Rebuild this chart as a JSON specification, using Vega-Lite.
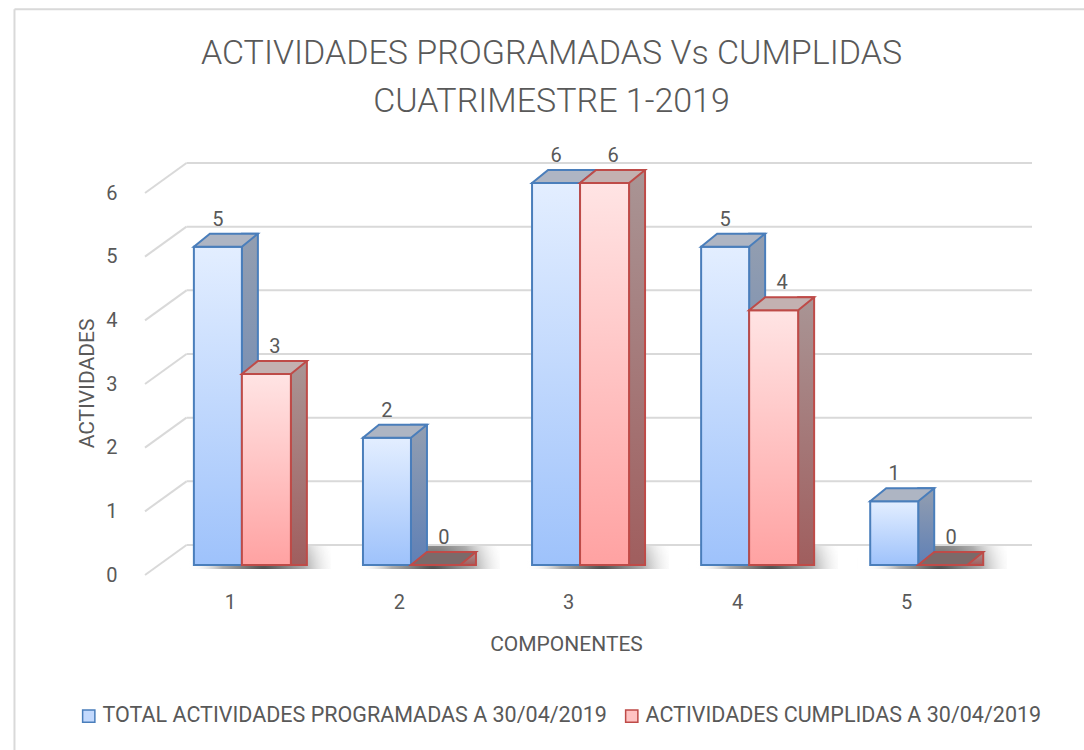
{
  "$schema": "https://vega.github.io/schema/vega-lite/v6.json",
  "width": 897,
  "height": 382,
  "autosize": {"type": "none"},
  "padding": {"left": 140, "top": 183, "right": 47, "bottom": 185},
  "background": "white",
  "config": {"view": {"stroke": null}, "font": "Roboto"},
  "title": {
    "text": ["ACTIVIDADES PROGRAMADAS Vs CUMPLIDAS", "CUATRIMESTRE 1-2019"],
    "font": "Roboto",
    "fontSize": 34,
    "fontWeight": 300,
    "color": "#595959",
    "lineHeight": 48,
    "anchor": "middle",
    "frame": "group",
    "dx": -37,
    "offset": -111
  },
  "datasets": {
    "bars": [
      {"c": 1, "serie": "TOTAL ACTIVIDADES PROGRAMADAS A 30/04/2019", "value": 5},
      {"c": 2, "serie": "TOTAL ACTIVIDADES PROGRAMADAS A 30/04/2019", "value": 2},
      {"c": 3, "serie": "TOTAL ACTIVIDADES PROGRAMADAS A 30/04/2019", "value": 6},
      {"c": 4, "serie": "TOTAL ACTIVIDADES PROGRAMADAS A 30/04/2019", "value": 5},
      {"c": 5, "serie": "TOTAL ACTIVIDADES PROGRAMADAS A 30/04/2019", "value": 1},
      {"c": 1, "serie": "ACTIVIDADES CUMPLIDAS A 30/04/2019", "value": 3},
      {"c": 2, "serie": "ACTIVIDADES CUMPLIDAS A 30/04/2019", "value": 0},
      {"c": 3, "serie": "ACTIVIDADES CUMPLIDAS A 30/04/2019", "value": 6},
      {"c": 4, "serie": "ACTIVIDADES CUMPLIDAS A 30/04/2019", "value": 4},
      {"c": 5, "serie": "ACTIVIDADES CUMPLIDAS A 30/04/2019", "value": 0}
    ],
    "grid": [{"v": 0}, {"v": 1}, {"v": 2}, {"v": 3}, {"v": 4}, {"v": 5}, {"v": 6}],
    "frame": [{"k": 1}]
  },
  "data": {"name": "bars"},
  "layer": [
    {
      "data": {"name": "frame"},
      "mark": {"type": "rule", "color": "#d9d9d9", "strokeWidth": 2},
      "encoding": {
        "x": {"datum": -0.345, "type": "quantitative", "title": "COMPONENTES"},
        "x2": {"datum": 6.2},
        "y": {"datum": 8.73, "type": "quantitative", "title": "ACTIVIDADES"}
      }
    },
    {
      "data": {"name": "frame"},
      "mark": {"type": "rule", "color": "#d9d9d9", "strokeWidth": 2},
      "encoding": {
        "x": {"datum": -0.345, "type": "quantitative", "title": "COMPONENTES"},
        "y": {"datum": 8.73, "type": "quantitative", "title": "ACTIVIDADES"},
        "y2": {"datum": -3.5}
      }
    },
    {
      "data": {"name": "grid"},
      "mark": {"type": "rule", "color": "#d9d9d9", "strokeWidth": 2, "yOffset": -20},
      "encoding": {
        "y": {
          "field": "v", "type": "quantitative", "title": "ACTIVIDADES",
          "scale": {"domain": [0, 6], "nice": false, "zero": false},
          "axis": {
            "values": [0, 1, 2, 3, 4, 5, 6], "format": "d",
            "domain": false, "ticks": false, "grid": false,
            "labelFontSize": 20, "labelColor": "#595959", "labelPadding": 23, "labelOffset": 10,
            "titleFontSize": 21, "titleFontWeight": "normal", "titleColor": "#595959",
            "titleAngle": -90, "titleX": -53, "titleY": 200, "titleAlign": "center", "titleBaseline": "middle"
          }
        },
        "x": {
          "datum": 0.6725, "type": "quantitative", "title": "COMPONENTES",
          "scale": {"domain": [0.427, 5.673], "nice": false, "zero": false},
          "axis": {
            "values": [1, 2, 3, 4, 5], "format": "d",
            "domain": false, "ticks": false, "grid": false,
            "labelFontSize": 20, "labelColor": "#595959", "labelPadding": 27, "labelOffset": -12,
            "titleFontSize": 21, "titleFontWeight": "normal", "titleColor": "#595959",
            "titleX": 426, "titleY": 79, "titleAlign": "center", "titleBaseline": "middle"
          }
        },
        "x2": {"datum": 5.673}
      }
    },
    {
      "data": {"name": "grid"},
      "mark": {"type": "rule", "color": "#d9d9d9", "strokeWidth": 2, "yOffset": 10, "y2Offset": -20},
      "encoding": {
        "y": {"field": "v", "type": "quantitative", "title": "ACTIVIDADES"},
        "y2": {"field": "v"},
        "x": {"datum": 0.427, "type": "quantitative", "title": "COMPONENTES"},
        "x2": {"datum": 0.6725}
      }
    },
    {
      "transform": [{"filter": "datum.serie == 'TOTAL ACTIVIDADES PROGRAMADAS A 30/04/2019'"}],
      "mark": {
        "type": "bar", "width": 150, "xOffset": 14, "yOffset": 4,
        "fill": {"gradient": "radial", "x1": 0.55, "y1": 0.6, "r1": 0, "x2": 0.55, "y2": 0.6, "r2": 0.5,
          "stops": [{"offset": 0, "color": "rgba(40,40,40,0.85)"}, {"offset": 0.55, "color": "rgba(70,70,70,0.45)"}, {"offset": 1, "color": "rgba(255,255,255,0)"}]}
      },
      "encoding": {
        "x": {"field": "c", "type": "quantitative", "title": "COMPONENTES"},
        "y": {"datum": 0, "type": "quantitative", "title": "ACTIVIDADES"},
        "y2": {"datum": 0.3}
      }
    },
    {
      "transform": [{"filter": "datum.c > 100"}],
      "mark": {"type": "point", "shape": "square", "filled": true, "opacity": 1},
      "encoding": {
        "x": {"field": "c", "type": "quantitative", "title": "COMPONENTES"},
        "y": {"field": "value", "type": "quantitative", "title": "ACTIVIDADES"},
        "fill": {
          "field": "serie", "type": "nominal",
          "scale": {
            "domain": ["TOTAL ACTIVIDADES PROGRAMADAS A 30/04/2019", "ACTIVIDADES CUMPLIDAS A 30/04/2019"],
            "range": ["#c3d9fd", "#ffc3c3"]
          },
          "legend": {
            "orient": "none", "legendX": -62, "legendY": 522, "direction": "horizontal",
            "title": null, "labelFontSize": 21.5, "labelColor": "#595959",
            "symbolType": "square", "symbolSize": 150, "symbolStrokeWidth": 1.5,
            "labelOffset": 3, "columnPadding": 14, "labelLimit": 0
          }
        },
        "stroke": {
          "field": "serie", "type": "nominal",
          "scale": {
            "domain": ["TOTAL ACTIVIDADES PROGRAMADAS A 30/04/2019", "ACTIVIDADES CUMPLIDAS A 30/04/2019"],
            "range": ["#4a7ebb", "#be4b48"]
          }
        }
      }
    },
    {
      "transform": [{"filter": "datum.serie == 'TOTAL ACTIVIDADES PROGRAMADAS A 30/04/2019'"}],
      "mark": {
        "type": "bar", "width": 16, "xOffset": 8, "yOffset": -13,
        "stroke": "#4a7ebb", "strokeWidth": 2,
        "fill": {"gradient": "linear", "x1": 0, "y1": 0, "x2": 0, "y2": 1,
          "stops": [{"offset": 0, "color": "#939eb0"}, {"offset": 1, "color": "#5f80b6"}]}
      },
      "encoding": {
        "x": {"field": "c", "type": "quantitative", "title": "COMPONENTES"},
        "y": {"field": "value", "type": "quantitative", "title": "ACTIVIDADES"},
        "y2": {"datum": 0}
      }
    },
    {
      "transform": [{"filter": "datum.serie == 'TOTAL ACTIVIDADES PROGRAMADAS A 30/04/2019'"}],
      "mark": {
        "type": "bar", "width": 48, "xOffset": -24, "stroke": "#4a7ebb", "strokeWidth": 2,
        "fill": {"gradient": "linear", "x1": 0, "y1": 0, "x2": 0, "y2": 1,
          "stops": [{"offset": 0, "color": "#e3eeff"}, {"offset": 1, "color": "#9ec2fb"}]}
      },
      "encoding": {
        "x": {"field": "c", "type": "quantitative", "title": "COMPONENTES"},
        "y": {"field": "value", "type": "quantitative", "title": "ACTIVIDADES"},
        "y2": {"datum": 0}
      }
    },
    {
      "transform": [{"filter": "datum.serie == 'TOTAL ACTIVIDADES PROGRAMADAS A 30/04/2019'"}],
      "mark": {
        "type": "point", "shape": "M-3,0L0,0L1,-0.8125L-2,-0.8125Z", "size": 1024,
        "filled": true, "opacity": 1, "fill": "#aeb5c3", "stroke": "#4a7ebb", "strokeWidth": 2
      },
      "encoding": {
        "x": {"field": "c", "type": "quantitative", "title": "COMPONENTES"},
        "y": {"field": "value", "type": "quantitative", "title": "ACTIVIDADES"}
      }
    },
    {
      "transform": [{"filter": "datum.serie == 'ACTIVIDADES CUMPLIDAS A 30/04/2019'"}],
      "mark": {
        "type": "bar", "width": 16, "xOffset": 57, "yOffset": -13,
        "stroke": "#be4b48", "strokeWidth": 2,
        "fill": {"gradient": "linear", "x1": 0, "y1": 0, "x2": 0, "y2": 1,
          "stops": [{"offset": 0, "color": "#a99595"}, {"offset": 1, "color": "#a05e5e"}]}
      },
      "encoding": {
        "x": {"field": "c", "type": "quantitative", "title": "COMPONENTES"},
        "y": {"field": "value", "type": "quantitative", "title": "ACTIVIDADES"},
        "y2": {"datum": 0}
      }
    },
    {
      "transform": [{"filter": "datum.serie == 'ACTIVIDADES CUMPLIDAS A 30/04/2019'"}],
      "mark": {
        "type": "bar", "width": 49, "xOffset": 24.5, "stroke": "#be4b48", "strokeWidth": 2,
        "fill": {"gradient": "linear", "x1": 0, "y1": 0, "x2": 0, "y2": 1,
          "stops": [{"offset": 0, "color": "#ffe4e4"}, {"offset": 1, "color": "#ffa2a2"}]}
      },
      "encoding": {
        "x": {"field": "c", "type": "quantitative", "title": "COMPONENTES"},
        "y": {"field": "value", "type": "quantitative", "title": "ACTIVIDADES"},
        "y2": {"datum": 0}
      }
    },
    {
      "transform": [{"filter": "datum.serie == 'ACTIVIDADES CUMPLIDAS A 30/04/2019'"}],
      "mark": {
        "type": "point", "shape": "M0,0L3.0625,0L4.0625,-0.8125L1,-0.8125Z", "size": 1024,
        "filled": true, "opacity": 1, "stroke": "#be4b48", "strokeWidth": 2
      },
      "encoding": {
        "x": {"field": "c", "type": "quantitative", "title": "COMPONENTES"},
        "y": {"field": "value", "type": "quantitative", "title": "ACTIVIDADES"},
        "fill": {"condition": {"test": "datum.value == 0", "value": "#7b6a6a"}, "value": "#c3b1b1"}
      }
    },
    {
      "transform": [{"filter": "datum.serie == 'TOTAL ACTIVIDADES PROGRAMADAS A 30/04/2019'"}],
      "mark": {"type": "text", "fontSize": 20, "color": "#595959", "xOffset": -24, "yOffset": -27},
      "encoding": {
        "x": {"field": "c", "type": "quantitative", "title": "COMPONENTES"},
        "y": {"field": "value", "type": "quantitative", "title": "ACTIVIDADES"},
        "text": {"field": "value", "type": "quantitative"}
      }
    },
    {
      "transform": [{"filter": "datum.serie == 'ACTIVIDADES CUMPLIDAS A 30/04/2019'"}],
      "mark": {"type": "text", "fontSize": 20, "color": "#595959", "xOffset": 33, "yOffset": -27},
      "encoding": {
        "x": {"field": "c", "type": "quantitative", "title": "COMPONENTES"},
        "y": {"field": "value", "type": "quantitative", "title": "ACTIVIDADES"},
        "text": {"field": "value", "type": "quantitative"}
      }
    }
  ]
}
